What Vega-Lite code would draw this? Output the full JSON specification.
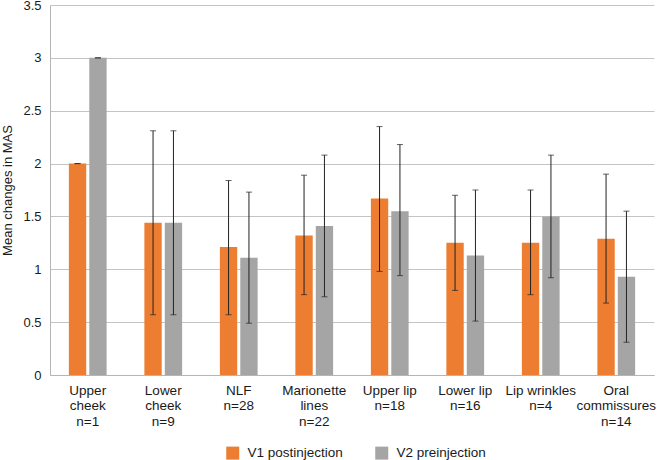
{
  "$schema": "https://vega.github.io/schema/vega-lite/v6.json",
  "width": 604,
  "height": 370,
  "autosize": {"type": "none"},
  "padding": {"left": 50, "top": 5, "right": 3, "bottom": 85},
  "background": "white",
  "config": {
    "view": {"stroke": null},
    "font": "Liberation Sans",
    "axis": {"labelFont": "Liberation Sans", "titleFont": "Liberation Sans", "labelColor": "#1a1a1a", "titleColor": "#1a1a1a"}
  },
  "data": {
    "values": [
      {"region": "Upper|cheek|n=1", "series": "V1 postinjection", "mean": 2.0, "lo": 2.0, "hi": 2.0},
      {"region": "Upper|cheek|n=1", "series": "V2 preinjection", "mean": 3.0, "lo": 3.0, "hi": 3.0},
      {"region": "Lower|cheek|n=9", "series": "V1 postinjection", "mean": 1.44, "lo": 0.57, "hi": 2.31},
      {"region": "Lower|cheek|n=9", "series": "V2 preinjection", "mean": 1.44, "lo": 0.57, "hi": 2.31},
      {"region": "NLF|n=28", "series": "V1 postinjection", "mean": 1.21, "lo": 0.57, "hi": 1.84},
      {"region": "NLF|n=28", "series": "V2 preinjection", "mean": 1.11, "lo": 0.49, "hi": 1.73},
      {"region": "Marionette|lines|n=22", "series": "V1 postinjection", "mean": 1.32, "lo": 0.76, "hi": 1.89},
      {"region": "Marionette|lines|n=22", "series": "V2 preinjection", "mean": 1.41, "lo": 0.74, "hi": 2.08},
      {"region": "Upper lip|n=18", "series": "V1 postinjection", "mean": 1.67, "lo": 0.98, "hi": 2.35},
      {"region": "Upper lip|n=18", "series": "V2 preinjection", "mean": 1.55, "lo": 0.94, "hi": 2.18},
      {"region": "Lower lip|n=16", "series": "V1 postinjection", "mean": 1.25, "lo": 0.8, "hi": 1.7},
      {"region": "Lower lip|n=16", "series": "V2 preinjection", "mean": 1.13, "lo": 0.51, "hi": 1.75},
      {"region": "Lip wrinkles|n=4", "series": "V1 postinjection", "mean": 1.25, "lo": 0.76, "hi": 1.75},
      {"region": "Lip wrinkles|n=4", "series": "V2 preinjection", "mean": 1.5, "lo": 0.92, "hi": 2.08},
      {"region": "Oral|commissures|n=14", "series": "V1 postinjection", "mean": 1.29, "lo": 0.68, "hi": 1.9},
      {"region": "Oral|commissures|n=14", "series": "V2 preinjection", "mean": 0.93, "lo": 0.31, "hi": 1.55}
    ]
  },
  "encoding": {
    "x": {
      "field": "region", "type": "nominal", "sort": null,
      "scale": {"paddingInner": 0.5, "paddingOuter": 0.25},
      "axis": {
        "title": null, "labelAngle": 0, "labelExpr": "split(datum.value, '|')",
        "labelFontSize": 13.5, "labelLineHeight": 15.5, "labelPadding": 8, "labelBaseline": "top",
        "ticks": false, "domainColor": "#b5b5b5", "grid": false
      }
    },
    "xOffset": {"field": "series", "type": "nominal", "scale": {"paddingInner": 0.15}}
  },
  "layer": [
    {
      "mark": {"type": "bar"},
      "encoding": {
        "y": {
          "field": "mean", "type": "quantitative",
          "scale": {"domain": [0, 3.5]},
          "axis": {
            "title": "Mean changes in MAS", "titleFontSize": 13, "titleFontWeight": "normal", "titlePadding": 8,
            "values": [0, 0.5, 1, 1.5, 2, 2.5, 3, 3.5], "format": "~g", "labelFontSize": 13, "labelPadding": 9,
            "ticks": false, "gridColor": "#c4c4c4", "domainColor": "#b5b5b5"
          }
        },
        "color": {
          "field": "series", "type": "nominal",
          "scale": {"domain": ["V1 postinjection", "V2 preinjection"], "range": ["#ED7D31", "#A5A5A5"]},
          "legend": {
            "title": null, "orient": "none", "direction": "horizontal", "legendX": 176, "legendY": 441,
            "symbolType": "square", "symbolSize": 169, "symbolStrokeWidth": 0, "symbolOpacity": 1,
            "labelFontSize": 13.5, "labelColor": "#1a1a1a", "columnPadding": 32, "labelOffset": 8
          }
        }
      }
    },
    {
      "mark": {"type": "rule", "color": "#222222", "strokeWidth": 1},
      "encoding": {
        "y": {"field": "lo", "type": "quantitative"},
        "y2": {"field": "hi"}
      }
    },
    {
      "mark": {"type": "tick", "color": "#222222", "size": 6, "thickness": 1, "orient": "horizontal"},
      "encoding": {"y": {"field": "lo", "type": "quantitative"}}
    },
    {
      "mark": {"type": "tick", "color": "#222222", "size": 6, "thickness": 1, "orient": "horizontal"},
      "encoding": {"y": {"field": "hi", "type": "quantitative"}}
    }
  ]
}
